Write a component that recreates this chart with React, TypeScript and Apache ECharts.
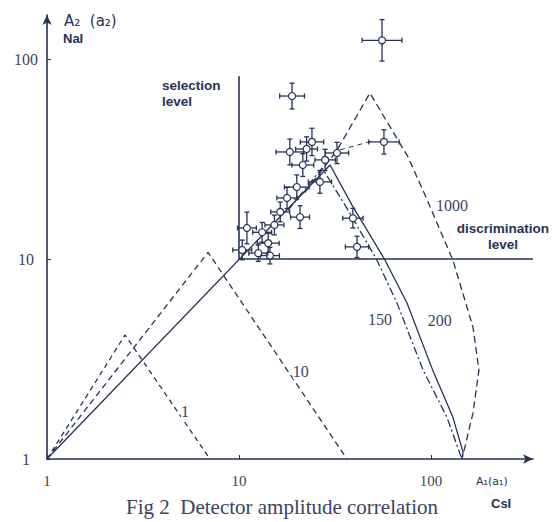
import React, { useEffect, useRef } from "react";
import * as echarts from "echarts";

// ---- data (log-log axes) ----
const xTicks = [1, 10, 100];
const yTicks = [1, 10, 100];

// energy curves: [A1 (CsI), A2 (NaI)]
const curve1: number[][] = [[1, 1], [2.55, 4.17], [7.06, 1]];
const curve10: number[][] = [[1, 1], [6.9, 10.8], [36.5, 1]];
const curve150: number[][] = [[18, 17.5], [27.1, 28.5], [35.7, 18.6], [52.3, 9.89], [66.5, 6.03], [90.9, 2.79], [121, 1.62], [145, 1]];
const curve200: number[][] = [[1, 1], [29.8, 29.5], [38.8, 18.6], [57.6, 9.89], [75.0, 6.03], [102, 2.79], [130, 1.62], [147, 1.08], [145, 1]];
const curve1000: number[][] = [[22, 21.5], [32.4, 35], [48.1, 67.6], [75.9, 32.4], [93.1, 20.9], [130, 9.89], [165.5, 4.57], [177.8, 2.79], [165.5, 1.7], [150.4, 1.15], [145, 1]];
const sideTrack: number[][] = [[33.6, 35.1], [49.3, 38.9]];

const selectionLevel: number[][] = [[10, 82], [10, 10]];
const discriminationLevel: number[][] = [[10, 10], [340, 10]];

// measured events: A1, A2, multiplicative error factors
const ptX = [55.6, 18.9, 56.9, 18.4, 24.0, 32.4, 20.0, 26.4, 20.8, 39.2, 41.2, 11.0, 10.4, 14.2, 14.5, 12.6, 16.4, 17.8, 21.5, 28.1, 13.2, 22.5, 15.3];
const ptY = [124, 65.3, 38.5, 34.3, 38.5, 33.9, 22.9, 24.3, 16.2, 16.0, 11.5, 14.3, 11.1, 12.0, 10.4, 10.7, 17.2, 20.2, 29.5, 31.3, 13.6, 35.5, 14.8];
const ptXErr = [1.27, 1.16, 1.2, 1.18, 1.15, 1.15, 1.16, 1.15, 1.12, 1.13, 1.15, 1.12, 1.12, 1.14, 1.12, 1.12, 1.12, 1.13, 1.14, 1.13, 1.12, 1.14, 1.12];
const ptYErr = [1.27, 1.16, 1.15, 1.16, 1.17, 1.13, 1.15, 1.14, 1.14, 1.12, 1.13, 1.2, 1.12, 1.12, 1.1, 1.1, 1.12, 1.13, 1.14, 1.13, 1.12, 1.15, 1.12];

// annotations
const curveLabelText = ["1", "10", "150", "200", "1000"];
const curveLabelX = [5.23, 21.0, 54.2, 111, 128.6];
const curveLabelY = [1.72, 2.75, 5.01, 4.9, 18.6];
const levelLabelText = ["selection\nlevel", "discrimination\nlevel"];
const levelLabelX = [3.97, 237];
const levelLabelY = [67.6, 13.0];
const levelLabelAlign = ["left", "center"];

const INK = "#263257";
const GREY_INK = "#3b4360";

export default function App() {
  const ref = useRef<HTMLDivElement>(null);
  useEffect(() => {
    if (!ref.current) return;
    const chart = echarts.init(ref.current, null, { renderer: "svg" });

    const lineSeries = (data: number[][], type: any, width = 1.3) => ({
      type: "line",
      data,
      showSymbol: false,
      symbol: "none",
      silent: true,
      lineStyle: { color: INK, width, type },
      z: 2,
    });

    const option: any = {
      animation: false,
      backgroundColor: "#ffffff",
      grid: { left: 47, top: 15, right: 26, bottom: 63, containLabel: false },
      xAxis: {
        type: "log",
        logBase: 10,
        min: 1,
        max: 340,
        splitLine: { show: false },
        axisLine: {
          show: true,
          symbol: ["none", "arrow"],
          symbolSize: [7, 10],
          lineStyle: { color: INK, width: 1.6 },
        },
        axisTick: { show: true, inside: true, length: 4, customValues: xTicks, lineStyle: { color: INK } },
        axisLabel: {
          customValues: xTicks,
          margin: 14,
          color: GREY_INK,
          fontFamily: "Liberation Serif",
          fontSize: 15,
        },
      },
      yAxis: {
        type: "log",
        logBase: 10,
        min: 1,
        max: 166,
        splitLine: { show: false },
        axisLine: {
          show: true,
          symbol: ["none", "arrow"],
          symbolSize: [7, 10],
          lineStyle: { color: INK, width: 1.6 },
        },
        axisTick: { show: true, inside: true, length: 4, customValues: yTicks, lineStyle: { color: INK } },
        axisLabel: {
          customValues: yTicks,
          margin: 21,
          align: "center",
          color: GREY_INK,
          fontFamily: "Liberation Serif",
          fontSize: 16,
        },
      },
      graphic: [
        {
          type: "text",
          x: 64,
          y: 13,
          style: { text: "A\u2082  (a\u2082)", fill: INK, font: '15px "DejaVu Sans"' },
        },
        {
          type: "text",
          x: 63,
          y: 32,
          style: { text: "NaI", fill: INK, font: 'bold 13px "Liberation Sans"' },
        },
        {
          type: "text",
          x: 476,
          y: 476,
          style: { text: "A\u2081(a\u2081)", fill: INK, font: '11px "DejaVu Sans"' },
        },
        {
          type: "text",
          x: 491,
          y: 497,
          style: { text: "CsI", fill: INK, font: 'bold 13px "Liberation Sans"' },
        },
        {
          type: "text",
          x: 282,
          y: 507,
          style: {
            text: "Fig 2  Detector amplitude correlation",
            fill: GREY_INK,
            font: '21px "Liberation Serif"',
            align: "center",
            verticalAlign: "middle",
          },
        },
      ],
      series: [
        lineSeries(curve1, [5, 4]),
        lineSeries(curve10, [6, 4]),
        lineSeries(curve150, [8, 3, 2, 3]),
        lineSeries(curve200, "solid", 1.3),
        lineSeries(curve1000, [7, 4]),
        lineSeries(sideTrack, [5, 4], 1),
        lineSeries(selectionLevel, "solid", 1.6),
        lineSeries(discriminationLevel, "solid", 1.6),
        {
          type: "custom",
          silent: true,
          z: 5,
          data: ptX.map((x, i) => [x, ptY[i], ptXErr[i], ptYErr[i]]),
          renderItem: (params: any, api: any) => {
            const x = api.value(0);
            const y = api.value(1);
            const fx = api.value(2);
            const fy = api.value(3);
            const c = api.coord([x, y]);
            const l = api.coord([x / fx, y]);
            const r = api.coord([x * fx, y]);
            const t = api.coord([x, y * fy]);
            const b = api.coord([x, y / fy]);
            const st = { stroke: INK, lineWidth: 1.3 };
            const cap = 2.5;
            return {
              type: "group",
              children: [
                { type: "line", shape: { x1: l[0], y1: c[1], x2: r[0], y2: c[1] }, style: st },
                { type: "line", shape: { x1: c[0], y1: t[1], x2: c[0], y2: b[1] }, style: st },
                { type: "line", shape: { x1: l[0], y1: c[1] - cap, x2: l[0], y2: c[1] + cap }, style: st },
                { type: "line", shape: { x1: r[0], y1: c[1] - cap, x2: r[0], y2: c[1] + cap }, style: st },
                { type: "line", shape: { x1: c[0] - cap, y1: t[1], x2: c[0] + cap, y2: t[1] }, style: st },
                { type: "line", shape: { x1: c[0] - cap, y1: b[1], x2: c[0] + cap, y2: b[1] }, style: st },
                { type: "circle", shape: { cx: c[0], cy: c[1], r: 3.5 }, style: { fill: "#ffffff", stroke: INK, lineWidth: 1.2 } },
              ],
            };
          },
        },
        {
          type: "custom",
          silent: true,
          z: 6,
          data: curveLabelText.map((_, i) => [curveLabelX[i], curveLabelY[i], i]),
          renderItem: (params: any, api: any) => {
            const p = api.coord([api.value(0), api.value(1)]);
            const i = api.value(2);
            return {
              type: "text",
              x: p[0],
              y: p[1],
              style: {
                text: curveLabelText[i],
                fill: GREY_INK,
                font: '16px "Liberation Serif"',
                align: "center",
                verticalAlign: "middle",
                backgroundColor: "#ffffff",
              },
            };
          },
        },
        {
          type: "custom",
          silent: true,
          z: 6,
          data: levelLabelText.map((_, i) => [levelLabelX[i], levelLabelY[i], i]),
          renderItem: (params: any, api: any) => {
            const p = api.coord([api.value(0), api.value(1)]);
            const i = api.value(2);
            return {
              type: "text",
              x: p[0],
              y: p[1],
              style: {
                text: levelLabelText[i],
                fill: INK,
                font: 'bold 13.5px "Liberation Sans"',
                lineHeight: 16,
                align: levelLabelAlign[i],
                verticalAlign: "middle",
              },
            };
          },
        },
      ],
    };
    chart.setOption(option);
    return () => chart.dispose();
  }, []);

  return (
    <div
      ref={ref}
      style={{ position: "absolute", left: 0, top: 0, width: 559, height: 522, background: "#fff" }}
    />
  );
}
